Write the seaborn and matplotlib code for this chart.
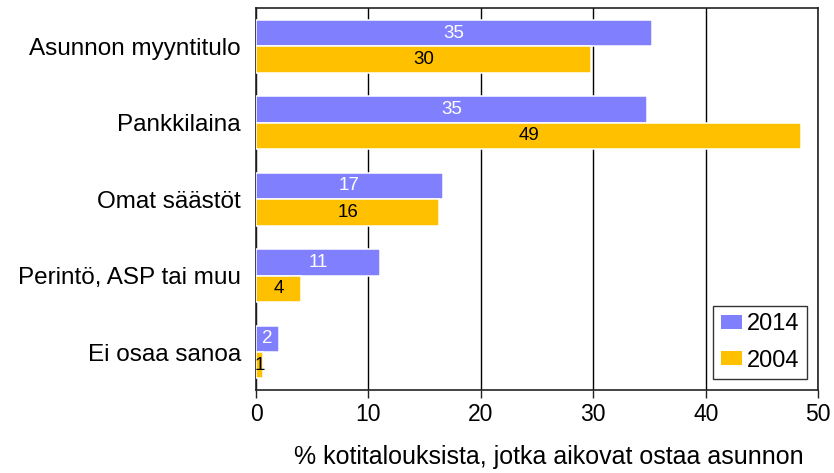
import matplotlib
matplotlib.use("Agg")
import matplotlib.pyplot as plt
import seaborn as sns
import pandas as pd

categories = ["Asunnon myyntitulo", "Pankkilaina", "Omat säästöt", "Perintö, ASP tai muu", "Ei osaa sanoa"]
series_names = ["2014", "2004"]
values_2014 = [35.2, 34.8, 16.6, 11.0, 2.0]
values_2004 = [29.8, 48.5, 16.3, 4.0, 0.6]
labels_2014 = ["35", "35", "17", "11", "2"]
labels_2004 = ["30", "49", "16", "4", "1"]
x_ticks = [0, 10, 20, 30, 40, 50]
colors = ["#8080FF", "#FFC000"]

df = pd.DataFrame({
    "cat": categories * 2,
    "year": [series_names[0]] * len(categories) + [series_names[1]] * len(categories),
    "val": values_2014 + values_2004,
})

sns.set_theme(style="white")
plt.rcParams["font.family"] = ["Liberation Sans", "DejaVu Sans"]

fig, ax = plt.subplots(figsize=(8.34, 4.73), dpi=100)
fig.subplots_adjust(left=0.307, right=0.981, top=0.983, bottom=0.175)

sns.barplot(data=df, y="cat", x="val", hue="year", orient="h",
            palette=colors, saturation=1, width=0.69, edgecolor="white", linewidth=1.1,
            ax=ax, zorder=3)

ax.set_xlim(0, 50)
ax.set_xticks(x_ticks)
ax.grid(axis="x", color="black", linewidth=1, zorder=0)
ax.set_axisbelow(True)
for s in ax.spines.values():
    s.set_visible(True)
    s.set_color("#222222")
    s.set_linewidth(1.2)

ax.tick_params(axis="x", which="both", bottom=True, length=6, width=1, color="#222222",
               labelsize=16.5, pad=3, direction="out", labelcolor="black")
ax.tick_params(axis="y", length=0, labelsize=17.5, pad=11, labelcolor="black")
ax.set_ylabel("")
ax.set_xlabel("% kotitalouksista, jotka aikovat ostaa asunnon", fontsize=18, color="black")
ax.xaxis.set_label_coords(0.521, -0.143)

ax.bar_label(ax.containers[0], labels=labels_2014, label_type="center", color="white", fontsize=13.5)
ax.bar_label(ax.containers[1], labels=labels_2004, label_type="center", color="black", fontsize=13.5)

leg = ax.legend(loc="lower right", fontsize=17, frameon=True, fancybox=False,
                edgecolor="black", borderaxespad=0.47, handlelength=0.9, handleheight=0.5,
                handletextpad=0.2, labelspacing=0.6, borderpad=0.32)
leg.get_frame().set_linewidth(1)
for h in leg.legend_handles:
    h.set_edgecolor("none")
for t in leg.get_texts():
    t.set_color("black")

fig.savefig("out.png", dpi=100)
